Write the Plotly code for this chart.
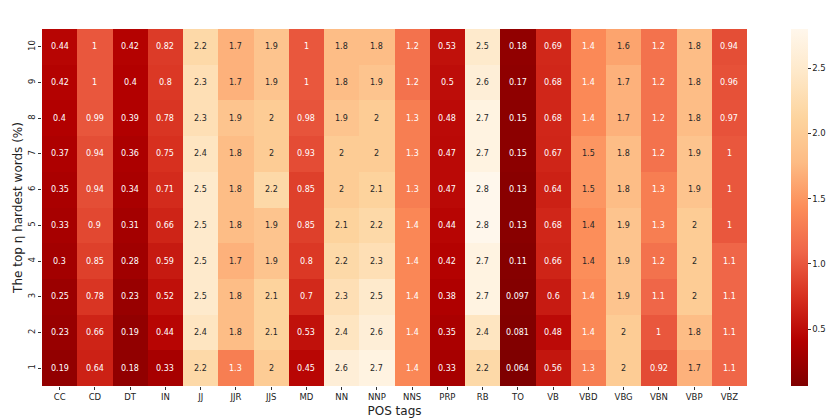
import plotly.graph_objects as go

pos_tags = ["CC", "CD", "DT", "IN", "JJ", "JJR", "JJS", "MD", "NN", "NNP",
            "NNS", "PRP", "RB", "TO", "VB", "VBD", "VBG", "VBN", "VBP", "VBZ"]
top_eta = ["1", "2", "3", "4", "5", "6", "7", "8", "9", "10"]

# rows listed from eta = 1 (bottom) up to eta = 10 (top)
row_1 = [0.19, 0.64, 0.18, 0.33, 2.2, 1.3, 2.0, 0.45, 2.6, 2.7, 1.38, 0.33, 2.2, 0.064, 0.56, 1.3, 2.0, 0.92, 1.7, 1.1]
row_2 = [0.23, 0.66, 0.19, 0.44, 2.4, 1.8, 2.1, 0.53, 2.4, 2.6, 1.38, 0.35, 2.4, 0.081, 0.48, 1.40, 2.0, 1.0, 1.8, 1.1]
row_3 = [0.25, 0.78, 0.23, 0.52, 2.5, 1.8, 2.1, 0.70, 2.3, 2.5, 1.38, 0.38, 2.7, 0.097, 0.60, 1.40, 1.9, 1.1, 2.0, 1.1]
row_4 = [0.30, 0.85, 0.28, 0.59, 2.5, 1.7, 1.9, 0.80, 2.2, 2.3, 1.38, 0.42, 2.7, 0.11, 0.66, 1.44, 1.9, 1.2, 2.0, 1.1]
row_5 = [0.33, 0.90, 0.31, 0.66, 2.5, 1.8, 1.9, 0.85, 2.1, 2.2, 1.38, 0.44, 2.8, 0.13, 0.68, 1.44, 1.9, 1.3, 2.0, 1.0]
row_6 = [0.35, 0.94, 0.34, 0.71, 2.5, 1.8, 2.2, 0.85, 2.0, 2.1, 1.3, 0.47, 2.8, 0.13, 0.64, 1.5, 1.8, 1.3, 1.9, 1.0]
row_7 = [0.37, 0.94, 0.36, 0.75, 2.4, 1.8, 2.0, 0.93, 2.0, 2.0, 1.3, 0.47, 2.7, 0.15, 0.67, 1.5, 1.8, 1.2, 1.9, 1.0]
row_8 = [0.40, 0.99, 0.39, 0.78, 2.3, 1.9, 2.0, 0.98, 1.9, 2.0, 1.3, 0.48, 2.7, 0.15, 0.68, 1.40, 1.7, 1.2, 1.8, 0.97]
row_9 = [0.42, 1.0, 0.40, 0.80, 2.3, 1.7, 1.9, 1.0, 1.8, 1.9, 1.2, 0.50, 2.6, 0.17, 0.68, 1.40, 1.7, 1.2, 1.8, 0.96]
row_10 = [0.44, 1.0, 0.42, 0.82, 2.2, 1.7, 1.9, 1.0, 1.8, 1.8, 1.2, 0.53, 2.5, 0.18, 0.69, 1.40, 1.6, 1.2, 1.8, 0.94]

z = [row_1, row_2, row_3, row_4, row_5, row_6, row_7, row_8, row_9, row_10]

orrd_r = [
    [0.0, "rgb(127,0,0)"], [0.125, "rgb(179,0,0)"], [0.25, "rgb(215,48,31)"],
    [0.375, "rgb(239,101,72)"], [0.5, "rgb(252,141,89)"], [0.625, "rgb(253,187,132)"],
    [0.75, "rgb(253,212,158)"], [0.875, "rgb(254,232,200)"], [1.0, "rgb(255,247,236)"],
]

zmin = min(min(r) for r in z)
zmax = max(max(r) for r in z)
threshold = 1.43

fig = go.Figure()
fig.add_trace(go.Heatmap(
    z=z, x=pos_tags, y=top_eta,
    colorscale=orrd_r, zmin=zmin, zmax=zmax,
    colorbar=dict(
        x=1.062, xanchor="left", xpad=0, y=0.5, yanchor="middle", len=1.0, lenmode="fraction",
        thickness=17, ypad=0, outlinewidth=0,
        tickvals=[0.5, 1.0, 1.5, 2.0, 2.5], ticktext=["0.5", "1.0", "1.5", "2.0", "2.5"],
        ticks="outside", ticklen=3, tickcolor="#333",
        tickfont=dict(family="DejaVu Sans", size=8.5, color="#222"),
    ),
    hoverinfo="skip",
))

annotations = []
for i, row in enumerate(z):
    for j, v in enumerate(row):
        annotations.append(dict(
            x=j, y=i, xref="x", yref="y", text="%.2g" % v, showarrow=False,
            font=dict(family="DejaVu Sans", size=8,
                      color="white" if v < threshold else "#262626"),
        ))

fig.update_layout(
    width=839, height=420,
    margin=dict(l=42, r=92, t=29, b=34, autoexpand=False),
    paper_bgcolor="white", plot_bgcolor="white",
    annotations=annotations,
    font=dict(family="DejaVu Sans", color="#222"),
    xaxis=dict(
        type="category", automargin=False,
        title=dict(text="POS tags", font=dict(size=12, family="DejaVu Sans"), standoff=5),
        ticks="outside", ticklen=3, tickcolor="#333", showgrid=False, zeroline=False,
        tickfont=dict(size=8.5, family="DejaVu Sans"), showline=False,
    ),
    yaxis=dict(
        type="category", automargin=False,
        title=dict(text="The top η hardest words (%)", font=dict(size=12, family="DejaVu Sans"), standoff=1),
        ticks="outside", ticklen=3, tickcolor="#333", showgrid=False, zeroline=False,
        tickfont=dict(size=8.5, family="DejaVu Sans"), tickangle=-90, showline=False,
    ),
)

fig.write_html("out.html", config={"displayModeBar": False},
               post_script="document.body.style.margin='0px';")
